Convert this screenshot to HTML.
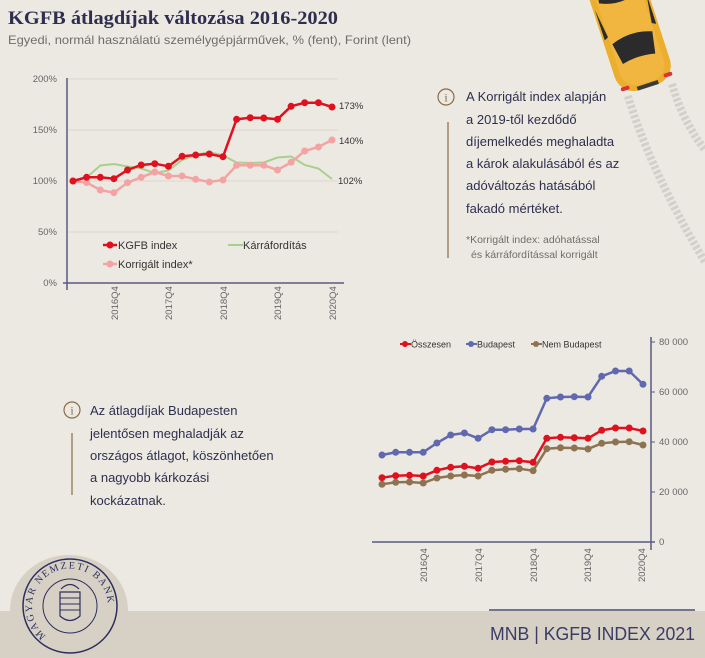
<!DOCTYPE html>
<html><head><meta charset="utf-8"><style>
html,body{margin:0;padding:0;background:#ECE9E2;}
svg{display:block;font-family:"Liberation Sans",sans-serif;}
</style></head><body>
<svg width="705" height="658" viewBox="0 0 705 658" xmlns="http://www.w3.org/2000/svg">
<rect width="705" height="658" fill="#ECE9E2"/>
<!-- tire tracks -->
<path d="M628 96 Q650 170 705 262" fill="none" stroke="#d3d0cb" stroke-width="8" stroke-dasharray="3 2"/>
<path d="M672 84 Q682 120 705 150" fill="none" stroke="#d3d0cb" stroke-width="8" stroke-dasharray="3 2"/>
<!-- car -->
<g transform="rotate(-18 632 40)">
<rect x="604" y="-45" width="58" height="135" rx="20" fill="#EBAE2E"/>
<rect x="610" y="-45" width="46" height="130" rx="16" fill="#F1B63F"/>
<path d="M612 38 Q633 30 654 38 L650 60 Q633 56 616 60 Z" fill="#2b2b2b"/>
<path d="M612 -5 Q633 5 654 -5 L650 -30 L616 -30 Z" fill="#2b2b2b"/>
<path d="M606 0 L610 30 L606 32 Z M660 0 L656 30 L660 32 Z" fill="#2b2b2b"/>
<rect x="622" y="86" width="22" height="4" fill="#3a3a3a"/>
<rect x="606" y="82" width="9" height="4" rx="2" fill="#d33"/>
<rect x="651" y="82" width="9" height="4" rx="2" fill="#d33"/>
</g>
<!-- title -->
<text x="8" y="24" font-family="Liberation Serif, serif" font-weight="bold" font-size="19" fill="#2E2F4E" textLength="330" lengthAdjust="spacingAndGlyphs">KGFB átlagdíjak változása 2016-2020</text>
<text x="8" y="44" font-size="12" fill="#6f6d6a" textLength="403" lengthAdjust="spacingAndGlyphs">Egyedi, normál használatú személygépjárművek, % (fent), Forint (lent)</text>

<!-- top chart -->
<g stroke="#dcd8d0" stroke-width="1">
<line x1="67" y1="79" x2="338" y2="79"/><line x1="67" y1="130" x2="338" y2="130"/><line x1="67" y1="181" x2="338" y2="181"/><line x1="67" y1="232" x2="338" y2="232"/>
</g>
<line x1="67" y1="78" x2="67" y2="290" stroke="#5a5b85" stroke-width="1.5"/>
<line x1="63" y1="283" x2="344" y2="283" stroke="#5a5b85" stroke-width="1.5"/>
<g font-size="9.5" fill="#666" text-anchor="end">
<text x="57" y="82">200%</text><text x="57" y="133">150%</text><text x="57" y="184">100%</text><text x="57" y="235">50%</text><text x="57" y="286">0%</text>
</g>
<g font-size="9.5" fill="#666" text-anchor="start">
<text transform="translate(118,320) rotate(-90)">2016Q4</text>
<text transform="translate(172,320) rotate(-90)">2017Q4</text>
<text transform="translate(227,320) rotate(-90)">2018Q4</text>
<text transform="translate(281,320) rotate(-90)">2019Q4</text>
<text transform="translate(336,320) rotate(-90)">2020Q4</text>
</g>
<polyline fill="none" stroke="#A8D08D" stroke-width="2" points="73,181 86.6,177.5 100.3,165.5 113.9,164 127.5,166.5 141.2,168.5 154.8,173 168.4,170.5 182.1,160 195.7,155 209.3,152 223,155.5 236.6,162.5 250.2,163 263.8,162.5 277.5,157.5 291.1,156.5 304.7,165 318.4,168.5 332,179"/>
<g fill="#F4A3A3" stroke="#F4A3A3">
<polyline fill="none" stroke-width="2.5" points="73,181 86.6,182.5 100.3,190 113.9,192.7 127.5,182.7 141.2,177.3 154.8,172 168.4,176 182.1,176 195.7,179.3 209.3,182 223,180 236.6,165.3 250.2,165.3 263.8,165.3 277.5,170 291.1,162.3 304.7,151 318.4,147 332,140"/>
<g stroke="none"><circle cx="73" cy="181" r="3.5"/><circle cx="86.6" cy="182.5" r="3.5"/><circle cx="100.3" cy="190" r="3.5"/><circle cx="113.9" cy="192.7" r="3.5"/><circle cx="127.5" cy="182.7" r="3.5"/><circle cx="141.2" cy="177.3" r="3.5"/><circle cx="154.8" cy="172" r="3.5"/><circle cx="168.4" cy="176" r="3.5"/><circle cx="182.1" cy="176" r="3.5"/><circle cx="195.7" cy="179.3" r="3.5"/><circle cx="209.3" cy="182" r="3.5"/><circle cx="223" cy="180" r="3.5"/><circle cx="236.6" cy="165.3" r="3.5"/><circle cx="250.2" cy="165.3" r="3.5"/><circle cx="263.8" cy="165.3" r="3.5"/><circle cx="277.5" cy="170" r="3.5"/><circle cx="291.1" cy="162.3" r="3.5"/><circle cx="304.7" cy="151" r="3.5"/><circle cx="318.4" cy="147" r="3.5"/><circle cx="332" cy="140" r="3.5"/></g>
</g>
<g fill="#E0111E">
<polyline fill="none" stroke="#E0111E" stroke-width="2.5" points="73,181 86.6,177.3 100.3,177.3 113.9,178.7 127.5,170 141.2,165 154.8,163.7 168.4,166.3 182.1,156.3 195.7,155 209.3,154 223,156.7 236.6,119.3 250.2,117.7 263.8,118 277.5,119.3 291.1,106.3 304.7,102.7 318.4,102.7 332,107"/>
<circle cx="73" cy="181" r="3.5"/><circle cx="86.6" cy="177.3" r="3.5"/><circle cx="100.3" cy="177.3" r="3.5"/><circle cx="113.9" cy="178.7" r="3.5"/><circle cx="127.5" cy="170" r="3.5"/><circle cx="141.2" cy="165" r="3.5"/><circle cx="154.8" cy="163.7" r="3.5"/><circle cx="168.4" cy="166.3" r="3.5"/><circle cx="182.1" cy="156.3" r="3.5"/><circle cx="195.7" cy="155" r="3.5"/><circle cx="209.3" cy="154" r="3.5"/><circle cx="223" cy="156.7" r="3.5"/><circle cx="236.6" cy="119.3" r="3.5"/><circle cx="250.2" cy="117.7" r="3.5"/><circle cx="263.8" cy="118" r="3.5"/><circle cx="277.5" cy="119.3" r="3.5"/><circle cx="291.1" cy="106.3" r="3.5"/><circle cx="304.7" cy="102.7" r="3.5"/><circle cx="318.4" cy="102.7" r="3.5"/><circle cx="332" cy="107" r="3.5"/>
</g>
<g font-size="9.5" fill="#333">
<text x="339" y="109">173%</text><text x="339" y="144">140%</text><text x="338" y="184">102%</text>
</g>
<!-- top legend -->
<line x1="103" y1="245" x2="117" y2="245" stroke="#E0111E" stroke-width="2.5"/><circle cx="110" cy="245" r="3.5" fill="#E0111E"/>
<text x="118" y="249" font-size="11" fill="#333">KGFB index</text>
<line x1="228" y1="245" x2="243" y2="245" stroke="#A8D08D" stroke-width="2"/>
<text x="243" y="249" font-size="11" fill="#333">Kárráfordítás</text>
<line x1="103" y1="264" x2="117" y2="264" stroke="#F4A3A3" stroke-width="2.5"/><circle cx="110" cy="264" r="3.5" fill="#F4A3A3"/>
<text x="118" y="268" font-size="11" fill="#333">Korrigált index*</text>

<!-- top-right info -->
<circle cx="446" cy="97" r="8" fill="none" stroke="#8B6A47" stroke-width="1.2"/>
<text x="446" y="101.5" font-family="Liberation Serif, serif" font-size="12" fill="#8B6A47" text-anchor="middle">i</text>
<line x1="448" y1="122" x2="448" y2="258" stroke="#8B6A47" stroke-width="1.2"/>
<g font-size="13" fill="#2E2F4E">
<text x="466" y="101">A Korrigált index alapján</text>
<text x="466" y="124">a 2019-től kezdődő</text>
<text x="466" y="146">díjemelkedés meghaladta</text>
<text x="466" y="168">a károk alakulásából és az</text>
<text x="466" y="190">adóváltozás hatásából</text>
<text x="466" y="213">fakadó mértéket.</text>
</g>
<g font-size="10.5" fill="#6f6d6a">
<text x="466" y="243">*Korrigált index: adóhatással</text>
<text x="471" y="258">és kárráfordítással korrigált</text>
</g>

<!-- left info -->
<circle cx="72" cy="410" r="8" fill="none" stroke="#8B6A47" stroke-width="1.2"/>
<text x="72" y="414.5" font-family="Liberation Serif, serif" font-size="12" fill="#8B6A47" text-anchor="middle">i</text>
<line x1="72" y1="433" x2="72" y2="495" stroke="#8B6A47" stroke-width="1.2"/>
<g font-size="13" fill="#2E2F4E">
<text x="90" y="415">Az átlagdíjak Budapesten</text>
<text x="90" y="438">jelentősen meghaladják az</text>
<text x="90" y="460">országos átlagot, köszönhetően</text>
<text x="90" y="482">a nagyobb kárkozási</text>
<text x="90" y="505">kockázatnak.</text>
</g>

<!-- bottom chart -->
<line x1="372" y1="542" x2="655" y2="542" stroke="#5a5b85" stroke-width="1.5"/>
<line x1="651" y1="337" x2="651" y2="550" stroke="#5a5b85" stroke-width="1.5"/>
<g stroke="#5a5b85" stroke-width="1"><line x1="651" y1="342" x2="655" y2="342"/><line x1="651" y1="392" x2="655" y2="392"/><line x1="651" y1="442" x2="655" y2="442"/><line x1="651" y1="492" x2="655" y2="492"/></g>
<g font-size="9.5" fill="#666">
<text x="659" y="345">80 000</text><text x="659" y="395">60 000</text><text x="659" y="445">40 000</text><text x="659" y="495">20 000</text><text x="659" y="545">0</text>
</g>
<g font-size="9.5" fill="#666">
<text transform="translate(427,582) rotate(-90)">2016Q4</text>
<text transform="translate(482,582) rotate(-90)">2017Q4</text>
<text transform="translate(537,582) rotate(-90)">2018Q4</text>
<text transform="translate(591,582) rotate(-90)">2019Q4</text>
<text transform="translate(645,582) rotate(-90)">2020Q4</text>
</g>
<g fill="#6069B0">
<polyline fill="none" stroke="#6069B0" stroke-width="2.5" points="382,455 395.7,452.3 409.5,452.3 423.2,452.3 436.9,443 450.7,435 464.4,433 478.1,438.3 491.9,429.7 505.6,429.7 519.3,429 533.1,429 546.8,398.3 560.5,397 574.3,396.7 588,397 601.7,376.3 615.5,371 629.2,371 643,384.3"/>
<circle cx="382" cy="455" r="3.5"/><circle cx="395.7" cy="452.3" r="3.5"/><circle cx="409.5" cy="452.3" r="3.5"/><circle cx="423.2" cy="452.3" r="3.5"/><circle cx="436.9" cy="443" r="3.5"/><circle cx="450.7" cy="435" r="3.5"/><circle cx="464.4" cy="433" r="3.5"/><circle cx="478.1" cy="438.3" r="3.5"/><circle cx="491.9" cy="429.7" r="3.5"/><circle cx="505.6" cy="429.7" r="3.5"/><circle cx="519.3" cy="429" r="3.5"/><circle cx="533.1" cy="429" r="3.5"/><circle cx="546.8" cy="398.3" r="3.5"/><circle cx="560.5" cy="397" r="3.5"/><circle cx="574.3" cy="396.7" r="3.5"/><circle cx="588" cy="397" r="3.5"/><circle cx="601.7" cy="376.3" r="3.5"/><circle cx="615.5" cy="371" r="3.5"/><circle cx="629.2" cy="371" r="3.5"/><circle cx="643" cy="384.3" r="3.5"/>
</g>
<g fill="#E0111E">
<polyline fill="none" stroke="#E0111E" stroke-width="2.5" points="382,477.7 395.7,475.7 409.5,475.3 423.2,476 436.9,470.3 450.7,467.3 464.4,466.3 478.1,468.3 491.9,462 505.6,461.3 519.3,460.7 533.1,462.3 546.8,438.3 560.5,437.3 574.3,437.7 588,438.3 601.7,430.3 615.5,428 629.2,428 643,431"/>
<circle cx="382" cy="477.7" r="3.5"/><circle cx="395.7" cy="475.7" r="3.5"/><circle cx="409.5" cy="475.3" r="3.5"/><circle cx="423.2" cy="476" r="3.5"/><circle cx="436.9" cy="470.3" r="3.5"/><circle cx="450.7" cy="467.3" r="3.5"/><circle cx="464.4" cy="466.3" r="3.5"/><circle cx="478.1" cy="468.3" r="3.5"/><circle cx="491.9" cy="462" r="3.5"/><circle cx="505.6" cy="461.3" r="3.5"/><circle cx="519.3" cy="460.7" r="3.5"/><circle cx="533.1" cy="462.3" r="3.5"/><circle cx="546.8" cy="438.3" r="3.5"/><circle cx="560.5" cy="437.3" r="3.5"/><circle cx="574.3" cy="437.7" r="3.5"/><circle cx="588" cy="438.3" r="3.5"/><circle cx="601.7" cy="430.3" r="3.5"/><circle cx="615.5" cy="428" r="3.5"/><circle cx="629.2" cy="428" r="3.5"/><circle cx="643" cy="431" r="3.5"/>
</g>
<g fill="#8E7352">
<polyline fill="none" stroke="#8E7352" stroke-width="2.5" points="382,484.3 395.7,482.3 409.5,482 423.2,483 436.9,478 450.7,476 464.4,475 478.1,476 491.9,470.3 505.6,469.3 519.3,468.7 533.1,470.7 546.8,448.7 560.5,447.7 574.3,448 588,449 601.7,443.3 615.5,442 629.2,441.7 643,445"/>
<circle cx="382" cy="484.3" r="3.5"/><circle cx="395.7" cy="482.3" r="3.5"/><circle cx="409.5" cy="482" r="3.5"/><circle cx="423.2" cy="483" r="3.5"/><circle cx="436.9" cy="478" r="3.5"/><circle cx="450.7" cy="476" r="3.5"/><circle cx="464.4" cy="475" r="3.5"/><circle cx="478.1" cy="476" r="3.5"/><circle cx="491.9" cy="470.3" r="3.5"/><circle cx="505.6" cy="469.3" r="3.5"/><circle cx="519.3" cy="468.7" r="3.5"/><circle cx="533.1" cy="470.7" r="3.5"/><circle cx="546.8" cy="448.7" r="3.5"/><circle cx="560.5" cy="447.7" r="3.5"/><circle cx="574.3" cy="448" r="3.5"/><circle cx="588" cy="449" r="3.5"/><circle cx="601.7" cy="443.3" r="3.5"/><circle cx="615.5" cy="442" r="3.5"/><circle cx="629.2" cy="441.7" r="3.5"/><circle cx="643" cy="445" r="3.5"/>
</g>
<!-- bottom legend -->
<line x1="400" y1="344" x2="411" y2="344" stroke="#E0111E" stroke-width="2"/><circle cx="405" cy="344" r="3" fill="#E0111E"/>
<text x="411" y="347.5" font-size="9" fill="#333">Összesen</text>
<line x1="466" y1="344" x2="477" y2="344" stroke="#6069B0" stroke-width="2"/><circle cx="471" cy="344" r="3" fill="#6069B0"/>
<text x="477" y="347.5" font-size="9" fill="#333">Budapest</text>
<line x1="531" y1="344" x2="542" y2="344" stroke="#8E7352" stroke-width="2"/><circle cx="536" cy="344" r="3" fill="#8E7352"/>
<text x="542" y="347.5" font-size="9" fill="#333">Nem Budapest</text>

<!-- footer -->
<rect x="0" y="611" width="705" height="47" fill="#D7D1C5"/>
<path d="M10 611 L10 610 A59 55 0 0 1 128 610 L128 611 Z" fill="#D7D1C5"/>
<line x1="489" y1="610" x2="695" y2="610" stroke="#4a4c78" stroke-width="1.5"/>
<text x="490" y="640" font-size="18" fill="#3A3C66" textLength="205" lengthAdjust="spacingAndGlyphs">MNB | KGFB INDEX 2021</text>
<!-- logo -->
<circle cx="70" cy="606" r="47" fill="none" stroke="#2E2F5E" stroke-width="1.5"/>
<circle cx="70" cy="606" r="27" fill="none" stroke="#2E2F5E" stroke-width="1"/>
<path d="M60 592 L80 592 L80 616 Q70 625 60 616 Z" fill="none" stroke="#2E2F5E" stroke-width="1.2"/>
<path d="M60 598 H80 M60 604 H80 M60 610 H80" stroke="#2E2F5E" stroke-width="1"/>
<path d="M61 589 Q70 580 79 589" fill="none" stroke="#2E2F5E" stroke-width="1.2"/>
<path id="arc" d="M46 636 A38 38 0 1 1 94 636" fill="none"/>
<text font-family="Liberation Serif, serif" font-size="10" fill="#2E2F5E" letter-spacing="1.6"><textPath href="#arc" startOffset="0">MAGYAR NEMZETI BANK</textPath></text>
</svg>
</body></html>
